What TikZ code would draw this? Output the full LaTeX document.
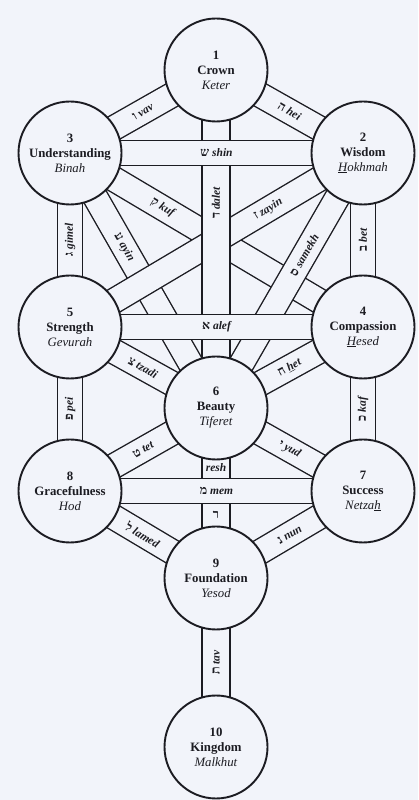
\documentclass[tikz,border=0pt]{standalone}
\usepackage{fontspec}
\setmainfont{Liberation Serif}
\newfontfamily\heb[Script=Hebrew]{Liberation Serif}
\usetikzlibrary{calc,backgrounds}
\definecolor{paper}{RGB}{242,244,250}
\definecolor{ink}{RGB}{28,28,34}
\tikzset{
  sef/.style={circle, draw=ink, line width=1.9pt, fill=paper, minimum size=103pt,
    inner sep=0pt, align=center, text=ink, font=\fontsize{12.8}{15}\selectfont},
  bandout/.style={draw=ink, line width=26.4pt},
  bandin/.style={draw=paper, line width=23.6pt},
  wbandout/.style={draw=ink, line width=29.4pt},
  wbandin/.style={draw=paper, line width=26.6pt},
  lab/.style={inner sep=1pt, text=ink, font=\fontsize{11.5}{13}\selectfont\bfseries\itshape},
}
% #1 band style prefix, #2 from, #3 to, #4 pos, #5 label options, #6 label text
\newcommand\mkband[6]{%
  \draw[#1out] (#2.center) -- (#3.center);
  \draw[#1in] (#2.center) -- node[lab,pos=#4,#5]{#6} (#3.center);}
\newcommand\hebl[1]{{\heb\bfseries\upshape\fontsize{12.5}{13}\selectfont #1}}
\newcommand\hl[2]{\hebl{#1}\ #2}
\begin{document}
\begin{tikzpicture}[x=1pt,y=1pt]
\useasboundingbox (0,0) rectangle (418,800);
% Sefirot
\node[sef] (n1)  at (216,730) {\textbf{1}\\\textbf{Crown}\\\textit{Keter}};
\node[sef] (n3)  at (70,647)  {\textbf{3}\\\textbf{Understanding}\\\textit{Binah}};
\node[sef] (n2)  at (363,647) {\textbf{2}\\\textbf{Wisdom}\\\textit{\underline{H}okhmah}};
\node[sef] (n5)  at (70,473)  {\textbf{5}\\\textbf{Strength}\\\textit{Gevurah}};
\node[sef] (n4)  at (363,473) {\textbf{4}\\\textbf{Compassion}\\\textit{\underline{H}esed}};
\node[sef] (n6)  at (216,392) {\textbf{6}\\\textbf{Beauty}\\\textit{Tiferet}};
\node[sef] (n8)  at (70,309)  {\textbf{8}\\\textbf{Gracefulness}\\\textit{Hod}};
\node[sef] (n7)  at (363,309) {\textbf{7}\\\textbf{Success}\\\textit{Netza\underline{h}}};
\node[sef] (n9)  at (216,222) {\textbf{9}\\\textbf{Foundation}\\\textit{Yesod}};
\node[sef] (n10) at (216,53)  {\textbf{10}\\\textbf{Kingdom}\\\textit{Malkhut}};
\begin{pgfonlayer}{background}
\fill[paper] (0,0) rectangle (418,800);
% lowest layer
\mkband{band}{n3}{n4}{0.316}{sloped}{\hl{ק}{kuf}}
\mkband{band}{n3}{n6}{0.37}{sloped}{\hl{ע}{ayin}}
\mkband{band}{n5}{n2}{0.677}{sloped}{\hl{ז}{zayin}}
\mkband{band}{n6}{n2}{0.6}{sloped}{\hl{ס}{samekh}}
\mkband{wband}{n1}{n6}{0.393}{rotate=90}{\hl{ד}{dalet}}
\mkband{band}{n3}{n2}{0.5}{}{\hl{ש}{shin}}
\mkband{band}{n5}{n4}{0.5}{}{\hl{א}{alef}}
\mkband{band}{n3}{n1}{0.5}{sloped}{\hl{ו}{vav}}
\mkband{band}{n1}{n2}{0.5}{sloped}{\hl{ה}{hei}}
\mkband{band}{n5}{n3}{0.5}{rotate=90}{\hl{ג}{gimel}}
\mkband{band}{n4}{n2}{0.5}{rotate=90}{\hl{ב}{bet}}
\mkband{band}{n5}{n6}{0.5}{sloped}{\hl{צ}{tzadi}}
\mkband{band}{n6}{n4}{0.5}{sloped}{\hl{ח}{\underline{h}et}}
\mkband{band}{n8}{n5}{0.5}{rotate=90}{\hl{פ}{pei}}
\mkband{band}{n7}{n4}{0.5}{rotate=90}{\hl{כ}{kaf}}
% resh with two labels
\draw[wbandout] (n6.center) -- (n9.center);
\draw[wbandin] (n6.center) -- node[lab,pos=0.353]{resh} node[lab,pos=0.629]{\hebl{ר}} (n9.center);
\mkband{band}{n8}{n7}{0.5}{}{\hl{מ}{mem}}
\mkband{band}{n8}{n6}{0.5}{sloped}{\hl{ט}{tet}}
\mkband{band}{n6}{n7}{0.5}{sloped}{\hl{י}{yud}}
\mkband{band}{n8}{n9}{0.5}{sloped}{\hl{ל}{lamed}}
\mkband{band}{n9}{n7}{0.5}{sloped}{\hl{נ}{nun}}
\mkband{wband}{n10}{n9}{0.5}{rotate=90}{\hl{ת}{tav}}
\end{pgfonlayer}
\end{tikzpicture}
\end{document}
